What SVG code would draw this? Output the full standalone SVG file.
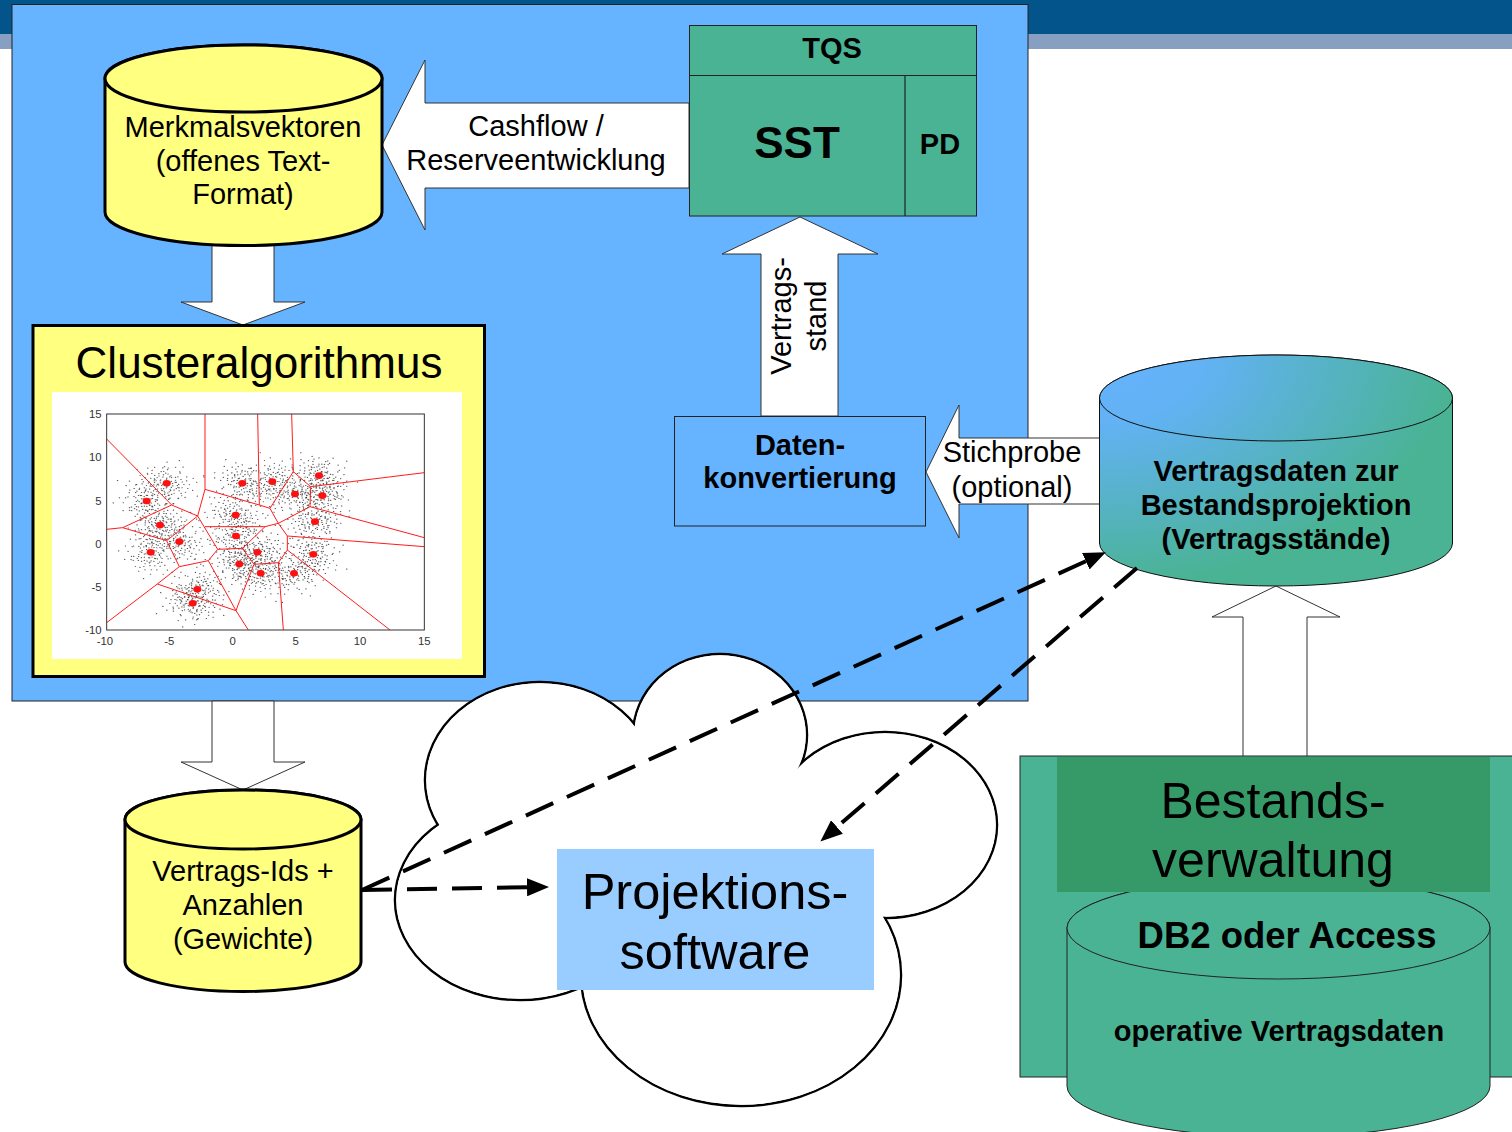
<svg xmlns="http://www.w3.org/2000/svg" width="1512" height="1132" viewBox="0 0 1512 1132">
<defs>
<style>
text { font-family: "Liberation Sans", Arial, Helvetica, sans-serif; fill: #000; text-anchor: middle; }
.n28 { font-size: 29px; }
.b28 { font-size: 29px; font-weight: bold; }
.blk { fill: #fff; stroke: #333; stroke-width: 1; }
.dash { fill: none; stroke: #000; stroke-width: 4; stroke-dasharray: 30 15; }
.yel { fill: #FFFF80; stroke: #000; stroke-width: 3; }
.grn { fill: #4AB394; stroke: #222; stroke-width: 1; }
.vor { stroke: #ff1a1a; stroke-width: 3; fill: none; }
.tick { font-size: 34px; fill: #333; }
.lobe { fill: #fff; stroke: #000; stroke-width: 2.5; }
.lobefill { fill: #fff; stroke: none; }
.dots { fill: none; stroke: #2a2a2a; stroke-width: 4; stroke-linecap: round; stroke-opacity: 0.8; }
</style>
<marker id="ah" markerUnits="userSpaceOnUse" markerWidth="22" markerHeight="18" refX="0" refY="9" orient="auto" viewBox="0 0 22 18">
  <path d="M0,0 L22,9 L0,18 Z" fill="#000"/>
</marker>
<radialGradient id="cylgrad" gradientUnits="userSpaceOnUse" cx="0" cy="0" r="1" gradientTransform="translate(1099 355) scale(353 230)">
  <stop offset="0" stop-color="#66B3FF"/>
  <stop offset="0.3" stop-color="#62B2F4"/>
  <stop offset="1" stop-color="#4AB394"/>
</radialGradient>
<clipPath id="axclip"><rect x="170" y="72" width="953" height="648"/></clipPath>
<!-- one cloud of sample points, reused around every centroid -->
<g id="cl">
<path class="dots"
  d="M0,0h.1M8,-5h.1M-10,6h.1M15,12h.1M-18,-9h.1M22,-15h.1M-5,20h.1M4,-24h.1M-26,14h.1M30,3h.1M-30,-4h.1M12,28h.1M-14,-28h.1M36,-20h.1M-38,18h.1M20,36h.1M-22,-38h.1M44,8h.1M-46,-10h.1M6,46h.1M-6,-48h.1M50,-32h.1M-52,30h.1M28,-46h.1M-30,50h.1M56,22h.1M-58,-26h.1M62,-6h.1M-64,6h.1M14,-60h.1M-16,62h.1M40,48h.1M-42,-50h.1M68,-30h.1M-70,34h.1M34,-64h.1M-36,66h.1M74,12h.1M-76,-14h.1M10,72h.1M-12,-74h.1M3,12h.1M-3,-14h.1M16,-2h.1M-17,1h.1M24,20h.1M-25,-22h.1M9,33h.1M-9,-35h.1M47,-4h.1M-49,3h.1M26,-28h.1M-27,27h.1M58,40h.1M-60,-44h.1M80,-18h.1M-82,20h.1M90,30h.1M-88,-35h.1M20,-85h.1M-25,88h.1M95,-45h.1M-95,50h.1M33,9h.1M-34,-8h.1M18,50h.1M-20,-52h.1"/>
<path class="dots"
  d="M5,3h.1M-7,-2h.1M11,-9h.1M-12,10h.1M2,16h.1M-3,-18h.1M18,6h.1M-19,-6h.1M13,19h.1M-14,-20h.1M25,-8h.1M-24,9h.1M7,-28h.1M-8,27h.1M29,14h.1M-29,-15h.1M20,-25h.1M-21,24h.1M33,-2h.1M-33,3h.1M1,34h.1M-2,-33h.1M38,20h.1M-37,-22h.1M26,31h.1M-27,-30h.1M41,-12h.1M-42,13h.1M14,40h.1M-15,-40h.1M45,28h.1M-46,-27h.1M52,-18h.1M-53,17h.1M30,-42h.1M-31,43h.1M6,52h.1M-5,-54h.1M60,8h.1M-61,-9h.1M22,-8h.1M-23,7h.1M-11,22h.1M10,-22h.1M36,10h.1M-36,-10h.1M48,36h.1M-47,-38h.1M15,55h.1M-16,-57h.1"/>
</g>
</defs>

<!-- page header bands -->
<g id="header">
  <rect x="0" y="0" width="1512" height="34" fill="#02548B"/>
  <rect x="0" y="34" width="1512" height="15" fill="#879FC0"/>
</g>

<!-- blue working area -->
<g id="arbeitsbereich">
  <rect x="12" y="4.5" width="1016" height="696.5" fill="#66B3FF" stroke="#222" stroke-width="1"/>
</g>

<!-- block arrows with their labels -->
<g id="connectors">
  <polygon class="blk" points="243,325 305,302 274,302 274,236 212,236 212,302 181,302"/>
  <polygon class="blk" points="243,790 305,762 274,762 274,701 212,701 212,762 181,762"/>
  <polygon class="blk" points="382,145 425,60 425,103 689,103 689,188 425,188 425,230"/>
  <text class="n28" x="536" y="136">Cashflow /</text>
  <text class="n28" x="536" y="170">Reserveentwicklung</text>
  <polygon class="blk" points="800,217 878,254 838,254 838,416 761,416 761,254 722,254"/>
  <text class="n28" transform="translate(791,316) rotate(-90)">Vertrags-</text>
  <text class="n28" transform="translate(826,316) rotate(-90)">stand</text>
  <polygon class="blk" points="926,472 959,405 959,438 1100,438 1100,504 959,504 959,538"/>
  <text class="n28" x="1012" y="462">Stichprobe</text>
  <text class="n28" x="1012" y="497">(optional)</text>
  <polygon class="blk" points="1276,586 1340,617 1307,617 1307,757 1243,757 1243,617 1212,617"/>
</g>

<g id="merkmalsvektoren">
  <path class="yel" d="M105,78.5 V212 A138.5,33.5 0 0 0 382,212 V78.5 A138.5,33.5 0 0 0 105,78.5 Z"/>
  <ellipse class="yel" cx="243.5" cy="78.5" rx="138.5" ry="33.5"/>
  <text class="n28" x="243" y="136.5">Merkmalsvektoren</text>
  <text class="n28" x="243" y="170.5">(offenes Text-</text>
  <text class="n28" x="243" y="204">Format)</text>
</g>

<g id="clusteralgorithmus">
  <rect class="yel" x="33" y="325.5" width="451.5" height="351"/>
  <text x="259" y="378" font-size="44">Clusteralgorithmus</text>
  <rect x="52" y="392" width="410" height="267" fill="#fff"/>
  <g transform="translate(50 390) scale(0.333333)">
    <g clip-path="url(#axclip)">
      <use href="#cl" transform="translate(350,280) scale(1.1 0.85) rotate(10)"/>
      <use href="#cl" transform="translate(290,333) scale(1.1 0.85) rotate(70)"/>
      <use href="#cl" transform="translate(330,405) scale(1.1 0.85) rotate(130)"/>
      <use href="#cl" transform="translate(388,455) scale(1.1 0.85) rotate(200)"/>
      <use href="#cl" transform="translate(302,487) scale(1.1 0.85) rotate(260)"/>
      <use href="#cl" transform="translate(577,280) scale(1.1 0.85) rotate(40)"/>
      <use href="#cl" transform="translate(667,275) scale(1.1 0.85) rotate(100)"/>
      <use href="#cl" transform="translate(735,312) scale(1.1 0.85) rotate(160)"/>
      <use href="#cl" transform="translate(807,257) scale(1.1 0.85) rotate(220)"/>
      <use href="#cl" transform="translate(817,317) scale(1.1 0.85) rotate(290)"/>
      <use href="#cl" transform="translate(795,395) scale(1.1 0.85) rotate(330)"/>
      <use href="#cl" transform="translate(557,375) scale(1.1 0.85) rotate(20)"/>
      <use href="#cl" transform="translate(558,438) scale(1.1 0.85) rotate(85)"/>
      <use href="#cl" transform="translate(622,487) scale(1.1 0.85) rotate(145)"/>
      <use href="#cl" transform="translate(568,522) scale(1.1 0.85) rotate(205)"/>
      <use href="#cl" transform="translate(632,550) scale(1.1 0.85) rotate(275)"/>
      <use href="#cl" transform="translate(732,550) scale(1.1 0.85) rotate(315)"/>
      <use href="#cl" transform="translate(790,493) scale(1.1 0.85) rotate(55)"/>
      <use href="#cl" transform="translate(442,598) scale(1.1 0.85) rotate(115)"/>
      <use href="#cl" transform="translate(428,640) scale(1.1 0.85) rotate(185)"/>
      <path class="vor" d="M170,147 L365,345 L443,378 L465,298 L465,72 M465,298 L628,345 L623,72 M628,345 L660,355 L730,245 L725,72 M730,245 L782,290 L1123,248 M782,290 L780,350 L1123,443 M780,350 L685,400 M660,355 L685,400 L712,438 L1123,470 M712,438 L712,480 L1020,720 M712,480 L685,518 L700,720 M685,518 L612,523 L578,475 L645,410 L685,400 M465,410 L645,410 M443,378 L503,478 L578,475 M503,478 L475,512 M612,523 L568,635 L558,662 L595,720 M475,512 L558,662 M365,345 L218,413 L170,418 M218,413 L350,452 L443,378 M350,452 L388,530 L475,512 M388,530 L322,582 L170,698 M322,582 L558,662"/>
    </g>
    <g fill="#ff1010">
      <ellipse cx="350" cy="280" rx="12" ry="10"/>
      <ellipse cx="290" cy="333" rx="12" ry="10"/>
      <ellipse cx="330" cy="405" rx="12" ry="10"/>
      <ellipse cx="388" cy="455" rx="12" ry="10"/>
      <ellipse cx="302" cy="487" rx="12" ry="10"/>
      <ellipse cx="577" cy="280" rx="12" ry="10"/>
      <ellipse cx="667" cy="275" rx="12" ry="10"/>
      <ellipse cx="735" cy="312" rx="12" ry="10"/>
      <ellipse cx="807" cy="257" rx="12" ry="10"/>
      <ellipse cx="817" cy="317" rx="12" ry="10"/>
      <ellipse cx="795" cy="395" rx="12" ry="10"/>
      <ellipse cx="557" cy="375" rx="12" ry="10"/>
      <ellipse cx="558" cy="438" rx="12" ry="10"/>
      <ellipse cx="622" cy="487" rx="12" ry="10"/>
      <ellipse cx="568" cy="522" rx="12" ry="10"/>
      <ellipse cx="632" cy="550" rx="12" ry="10"/>
      <ellipse cx="732" cy="550" rx="12" ry="10"/>
      <ellipse cx="790" cy="493" rx="12" ry="10"/>
      <ellipse cx="442" cy="598" rx="12" ry="10"/>
      <ellipse cx="428" cy="640" rx="12" ry="10"/>
    </g>
    <rect x="170" y="72" width="953" height="648" fill="none" stroke="#333" stroke-width="3"/>
    <text class="tick" x="155" y="84" style="text-anchor:end">15</text>
    <text class="tick" x="155" y="212" style="text-anchor:end">10</text>
    <text class="tick" x="155" y="344" style="text-anchor:end">5</text>
    <text class="tick" x="155" y="474" style="text-anchor:end">0</text>
    <text class="tick" x="155" y="604" style="text-anchor:end">-5</text>
    <text class="tick" x="155" y="732" style="text-anchor:end">-10</text>
    <text class="tick" x="165" y="764">-10</text>
    <text class="tick" x="358" y="764">-5</text>
    <text class="tick" x="548" y="764">0</text>
    <text class="tick" x="737" y="764">5</text>
    <text class="tick" x="930" y="764">10</text>
    <text class="tick" x="1123" y="764">15</text>
  </g>
</g>

<g id="tqs">
  <rect class="grn" x="689.5" y="25.5" width="287" height="190.5"/>
  <path d="M689.5,75.5 H976.5 M905,75.5 V216" stroke="#222" stroke-width="1.2"/>
  <text class="b28" x="832" y="58">TQS</text>
  <text x="797" y="158" font-size="44" font-weight="bold">SST</text>
  <text class="b28" x="940" y="154">PD</text>
</g>

<g id="datenkonvertierung">
  <rect x="674.5" y="416.5" width="251" height="109.5" fill="#66B3FF" stroke="#222" stroke-width="1"/>
  <text class="b28" x="800" y="455">Daten-</text>
  <text class="b28" x="800" y="488">konvertierung</text>
</g>

<g id="vertragsdaten">
  <path d="M1099.5,398 V543 A176.5,43 0 0 0 1452.5,543 V398 A176.5,43 0 0 0 1099.5,398 Z" fill="url(#cylgrad)" stroke="#111" stroke-width="1"/>
  <ellipse cx="1276" cy="398" rx="176.5" ry="43" fill="url(#cylgrad)" stroke="#111" stroke-width="1"/>
  <text class="b28" x="1276" y="481">Vertragsdaten zur</text>
  <text class="b28" x="1276" y="515">Bestandsprojektion</text>
  <text class="b28" x="1276" y="549">(Vertragsstände)</text>
</g>

<g id="bestandsverwaltung">
  <rect class="grn" x="1020" y="756" width="500" height="321"/>
  <path class="grn" d="M1067,928 V1086 A211.5,51 0 0 0 1490,1086 V928 A211.5,51 0 0 0 1067,928 Z"/>
  <ellipse class="grn" cx="1278.5" cy="928" rx="211.5" ry="51"/>
  <rect x="1057" y="757" width="433" height="135" fill="#359A68"/>
  <text x="1273" y="818" font-size="50">Bestands-</text>
  <text x="1273" y="877" font-size="50">verwaltung</text>
  <text x="1287" y="948" font-size="36.5" font-weight="bold">DB2 oder Access</text>
  <text class="b28" x="1279" y="1041">operative Vertragsdaten</text>
</g>

<g id="vertrags-ids">
  <path class="yel" d="M125,819.5 V962 A118,29.5 0 0 0 361,962 V819.5 A118,29.5 0 0 0 125,819.5 Z"/>
  <ellipse class="yel" cx="243" cy="819.5" rx="118" ry="29.5"/>
  <text class="n28" x="243" y="881">Vertrags-Ids +</text>
  <text class="n28" x="243" y="915">Anzahlen</text>
  <text class="n28" x="243" y="949">(Gewichte)</text>
</g>

<g id="projektionssoftware">
  <!-- cloud: stroked lobes first, then white fills hide the inner arcs -->
  <ellipse class="lobe" cx="540" cy="780" rx="115" ry="98"/>
  <ellipse class="lobe" cx="720" cy="735" rx="87" ry="81"/>
  <ellipse class="lobe" cx="885" cy="825" rx="112" ry="93"/>
  <ellipse class="lobe" cx="741" cy="975" rx="160" ry="131"/>
  <ellipse class="lobe" cx="520" cy="900" rx="125" ry="100"/>
  <ellipse class="lobefill" cx="540" cy="780" rx="113.8" ry="96.8"/>
  <ellipse class="lobefill" cx="720" cy="735" rx="85.8" ry="79.8"/>
  <ellipse class="lobefill" cx="885" cy="825" rx="110.8" ry="91.8"/>
  <ellipse class="lobefill" cx="741" cy="975" rx="158.8" ry="129.8"/>
  <ellipse class="lobefill" cx="520" cy="900" rx="123.8" ry="98.8"/>
  <ellipse class="lobefill" cx="690" cy="860" rx="130" ry="80"/>
  <ellipse class="lobefill" cx="765" cy="810" rx="60" ry="48"/>
  <rect x="557" y="849" width="317" height="141" fill="#99CCFF"/>
  <text x="715" y="909" font-size="50.5">Projektions-</text>
  <text x="715" y="969" font-size="50.5">software</text>
</g>

<!-- dashed data flows -->
<g id="datenfluss">
  <path class="dash" d="M362,890 L1085.8,561.3" marker-end="url(#ah)"/>
  <path class="dash" d="M362,890 L527,887.3" marker-end="url(#ah)"/>
  <path class="dash" d="M1137,568 L837,827" marker-end="url(#ah)"/>
</g>
</svg>
